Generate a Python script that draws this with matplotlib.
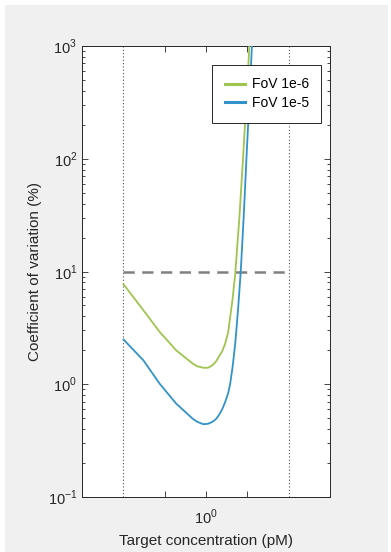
import numpy as np
import matplotlib
matplotlib.use('Agg')
import matplotlib.pyplot as plt
from matplotlib.patches import Rectangle

plt.rcParams['font.family'] = ['Liberation Sans', 'DejaVu Sans']
plt.rcParams['mathtext.fontset'] = 'custom'
plt.rcParams['mathtext.rm'] = 'Liberation Sans'

#=============== data ===============
conc_green = [0.251, 0.35, 0.46, 0.606, 0.798, 0.862, 0.956, 1.034, 1.11, 1.18, 1.24,
              1.313, 1.38, 1.45, 1.50, 1.561, 1.633, 1.75, 1.86, 1.96, 2.07, 2.2]
cv_green = [7.7, 4.53, 2.91, 2.00, 1.53, 1.444, 1.40, 1.40, 1.47, 1.584, 1.75,
            1.962, 2.30, 2.89, 3.95, 5.67, 9.6, 30.0, 100.0, 300.0, 1000.0, 3000.0]

conc_blue = [0.251, 0.35, 0.46, 0.606, 0.798, 0.862, 0.956, 1.034, 1.11, 1.18, 1.24,
             1.313, 1.38, 1.45, 1.50, 1.561, 1.633, 1.71, 1.79, 1.88, 1.97, 2.06, 2.16, 2.3]
cv_blue = [2.49, 1.63, 1.01, 0.674, 0.496, 0.465, 0.442, 0.446, 0.463, 0.49, 0.531,
           0.60, 0.697, 0.832, 1.01, 1.415, 2.30, 4.53, 9.91, 30.0, 100.0, 300.0, 1000.0, 3000.0]

labels = ['FoV 1e-6', 'FoV 1e-5']
bounds = [0.25, 4.0]     # dotted verticals
cv_limit = 10.0          # dashed threshold

#=============== figure ===============
fig = plt.figure(figsize=(3.91, 5.52), dpi=100, facecolor='white')
fig.patches.append(Rectangle((5 / 391, 0), 383 / 391, 547 / 552, transform=fig.transFigure,
                             facecolor='#f0f0f0', edgecolor='none', zorder=-10))

ax = fig.add_axes([82 / 391, 1 - 497 / 552, (330 - 82) / 391, (497 - 46) / 552])
ax.set_xscale('log')
ax.set_yscale('log')

for b in bounds:
    ax.axvline(b, color='#505050', linestyle=(0, (1, 2)), linewidth=0.8, zorder=1)
ax.plot(bounds, [cv_limit, cv_limit], color='#808080', linewidth=1.8,
        linestyle=(0, (4.5, 3)), zorder=2)

ax.plot(conc_green, cv_green, color='#9fc44f', linewidth=1.3, label=labels[0], zorder=3)
ax.plot(conc_blue, cv_blue, color='#3193c9', linewidth=1.3, label=labels[1], zorder=3)

ax.set_xlim(0.125, 8)
ax.set_ylim(0.1, 1000)

ax.set_xticks([0.5, 1, 2])
ax.set_xticklabels(['', '$10^0$', ''])
ax.xaxis.set_minor_locator(matplotlib.ticker.NullLocator())
ax.set_yticks([0.1, 1, 10, 100, 1000])
ax.set_yticklabels(['$10^{-1}$', '$10^0$', '$10^1$', '$10^2$', '$10^3$'])

ax.tick_params(which='both', direction='in', top=True, right=True, colors='#262626',
               labelsize=10.5, labelcolor='#262626')
ax.tick_params(which='major', length=4, width=0.6)
ax.tick_params(which='minor', length=2.5, width=0.6)
ax.tick_params(axis='x', pad=8)
for s in ax.spines.values():
    s.set_color('#262626')
    s.set_linewidth(0.7)

ax.set_xlabel('Target concentration (pM)', fontsize=11, color='#262626', labelpad=5)
ax.set_ylabel('Coefficient of variation (%)', fontsize=11, color='#262626', labelpad=4)

leg = ax.legend(loc='upper right', bbox_to_anchor=(0.965, 0.958), fontsize=10,
                frameon=True, fancybox=False, edgecolor='#262626', framealpha=1,
                handlelength=1.5, borderpad=0.9, borderaxespad=0, labelspacing=0.35,
                handletextpad=0.45)
leg.get_frame().set_linewidth(0.7)
for line in leg.get_lines():
    line.set_linewidth(2.2)

fig.savefig('out.png', dpi=100, facecolor=fig.get_facecolor())
